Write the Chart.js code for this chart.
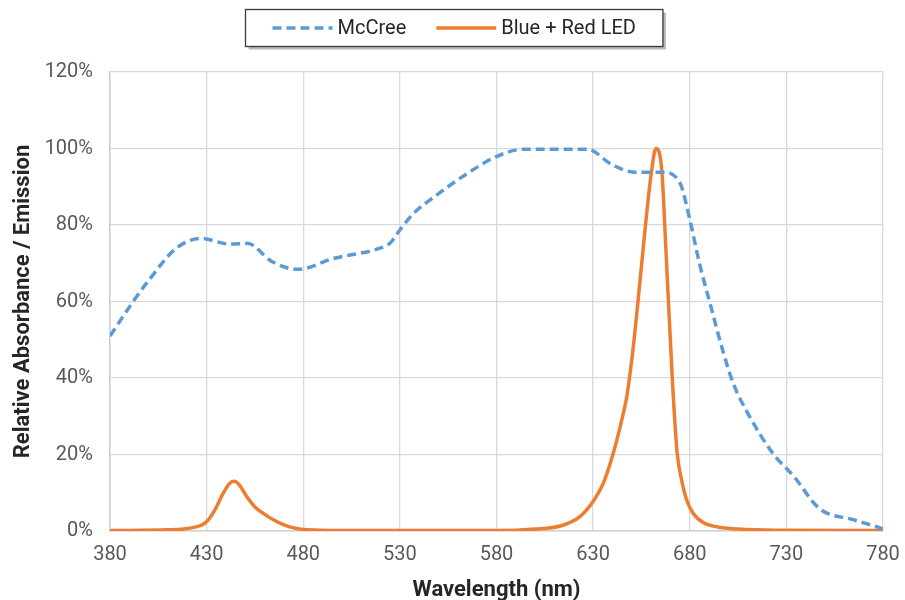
<!DOCTYPE html>
<html>
<head>
<meta charset="utf-8">
<script src="https://cdn.jsdelivr.net/npm/chart.js@4"></script>
<style>
  html, body { margin: 0; padding: 0; background: #ffffff; }
  #wrap { width: 905px; height: 600px; position: relative; }
</style>
</head>
<body>
<div id="wrap"><canvas id="c" width="905" height="600"></canvas></div>
<script>
// ---- Data ----
const seriesNames = ["McCree", "Blue + Red LED"];

const mccreeNm = [380, 392, 400, 414, 427, 442, 451, 464, 477, 496, 520, 525, 530, 537, 549, 565, 580, 594, 627, 640, 652, 666, 675, 680, 685, 690.5, 696.5, 702.5, 711, 723, 734, 747, 765, 779, 780];
const mccreeVal = [51, 60, 65.5, 73.8, 76.5, 75, 75.2, 70.4, 68.4, 71.3, 74, 75.3, 78.7, 83, 87.8, 93.5, 97.9, 99.8, 99.8, 95.7, 93.8, 93.8, 90.9, 81.5, 70, 59.5, 48.2, 38.6, 29.9, 20.3, 14.2, 5.9, 2.9, 0.7, 0.5];

const ledNm = [380, 410, 418, 424, 428, 431, 434.3, 438.6, 442, 444.3, 447, 450.7, 455, 459.3, 465, 470, 476, 482, 500, 580, 600, 613, 623, 630, 635.3, 640.4, 644.8, 647.4, 650.8, 654.3, 657.7, 660.3, 662.5, 665.5, 668, 671, 672, 673.5, 675.8, 678.4, 681.8, 687, 694, 705, 730, 780];
const ledVal = [0.1, 0.3, 0.5, 1.0, 1.7, 3.0, 5.5, 9.9, 12.5, 13, 12, 9, 6.3, 4.6, 2.8, 1.6, 0.7, 0.3, 0.1, 0.1, 0.5, 1.3, 3.7, 7.7, 12.5, 20.3, 29, 35.1, 48.2, 65.6, 83, 94.4, 100, 94.4, 70, 39.5, 30.8, 20.3, 13.3, 8.1, 4.6, 2.2, 1.1, 0.5, 0.2, 0.1];

const xTicks = [380, 430, 480, 530, 580, 630, 680, 730, 780];
const yTicks = [0, 20, 40, 60, 80, 100, 120];

const xTitle = "Wavelength (nm)";
const yTitle = "Relative Absorbance / Emission";

// ---- Build ----
const toPts = (xs, ys) => xs.map((x, i) => ({ x: x, y: ys[i] }));
const FONT = "Roboto, 'Liberation Sans', sans-serif";

const boxedLegend = {
  id: 'boxedLegend',
  afterDraw(chart) {
    const ctx = chart.ctx;
    const ds = chart.data.datasets;
    ctx.save();
    ctx.font = "20px " + FONT;
    const sample = 60, gapT = 5, gapItem = 30, padX = 27;
    const widths = ds.map(d => sample + gapT + ctx.measureText(d.label).width);
    const inner = widths.reduce((a, b) => a + b, 0) + gapItem * (ds.length - 1);
    const bw = inner + padX * 2, bh = 37;
    const cx = chart.width / 2 + 1;
    const bx = Math.round(cx - bw / 2) + 0.5, by = 9.5;
    // shadow
    ctx.fillStyle = "rgba(0,0,0,0.28)";
    ctx.fillRect(bx + 3, by + 3, bw, bh);
    ctx.fillStyle = "#ffffff";
    ctx.fillRect(bx, by, bw, bh);
    ctx.strokeStyle = "#3a3a3a";
    ctx.lineWidth = 1.3;
    ctx.strokeRect(bx, by, bw, bh);
    let x = bx + padX;
    const yMid = by + bh / 2;
    ds.forEach((d, i) => {
      ctx.beginPath();
      ctx.setLineDash(d.borderDash || []);
      ctx.strokeStyle = d.borderColor;
      ctx.lineWidth = d.borderWidth;
      ctx.moveTo(x, yMid);
      ctx.lineTo(x + sample, yMid);
      ctx.stroke();
      ctx.setLineDash([]);
      ctx.fillStyle = "#262626";
      ctx.textBaseline = "middle";
      ctx.textAlign = "left";
      ctx.fillText(d.label, x + sample + gapT, yMid + 1);
      x += widths[i] + gapItem;
    });
    ctx.restore();
  }
};

new Chart(document.getElementById('c'), {
  type: 'line',
  data: {
    datasets: [
      {
        label: seriesNames[0],
        data: toPts(mccreeNm, mccreeVal),
        borderColor: '#5B9BD5',
        borderWidth: 3.5,
        borderDash: [9, 5],
        pointRadius: 0,
        cubicInterpolationMode: 'monotone',
        fill: false
      },
      {
        label: seriesNames[1],
        data: toPts(ledNm, ledVal),
        borderColor: '#ED7D31',
        borderWidth: 3.5,
        pointRadius: 0,
        cubicInterpolationMode: 'monotone',
        fill: false
      }
    ]
  },
  options: {
    responsive: false,
    animation: false,
    layout: { padding: { top: 72, right: 22, left: 0, bottom: 0 } },
    plugins: {
      legend: { display: false },
      tooltip: { enabled: false }
    },
    scales: {
      x: {
        type: 'linear',
        min: 380, max: 780,
        afterBuildTicks: s => { s.ticks = xTicks.map(v => ({ value: v })); },
        afterFit: s => { s.height = 69; s.paddingLeft = 0; s.paddingRight = 0; },
        grid: { color: '#d9d9d9', lineWidth: 1.3, drawTicks: false },
        border: { color: '#d0d0d0', width: 1.5 },
        ticks: { color: '#595959', font: { family: FONT, size: 20 }, padding: 12, maxRotation: 0 },
        title: { display: true, text: xTitle, color: '#262626', font: { family: FONT, size: 22, weight: 'bold' }, padding: { top: 0, bottom: -4 } }
      },
      y: {
        min: 0, max: 120,
        afterBuildTicks: s => { s.ticks = yTicks.map(v => ({ value: v })); },
        afterFit: s => { s.width = 110; },
        grid: { color: '#d9d9d9', lineWidth: 1.3, drawTicks: false },
        border: { color: '#d0d0d0', width: 1.5 },
        ticks: { color: '#595959', font: { family: FONT, size: 20 }, padding: 17, callback: v => v + '%' },
        title: { display: true, text: yTitle, color: '#262626', font: { family: FONT, size: 22, weight: 'bold' }, padding: { top: 10, bottom: 0 } }
      }
    }
  },
  plugins: [boxedLegend]
});
</script>
</body>
</html>
